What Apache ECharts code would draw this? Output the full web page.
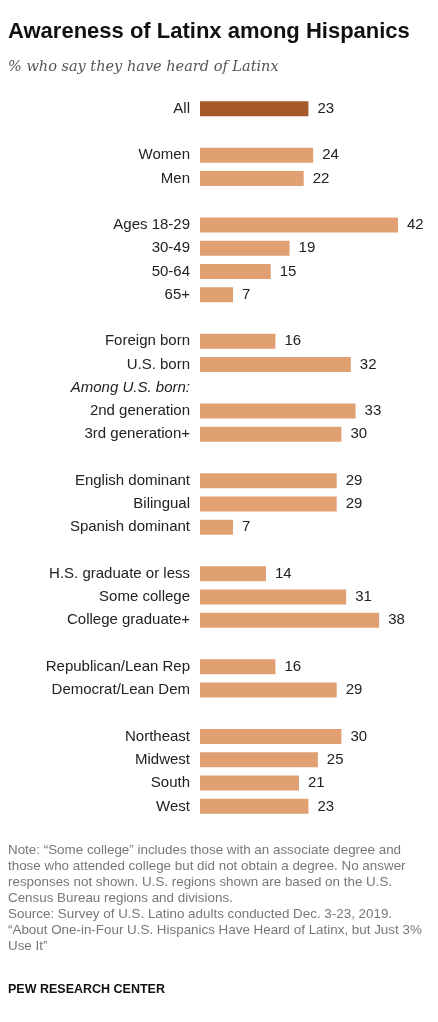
<!DOCTYPE html>
<html><head><meta charset="utf-8">
<script src="https://cdn.jsdelivr.net/npm/echarts@6/dist/echarts.min.js"></script>
<style>html,body{margin:0;padding:0;background:#fff}#c{width:438px;height:1022px}</style>
</head><body><div id="c"></div>
<script>
const categories = ["All","","Women","Men","","Ages 18-29","30-49","50-64","65+","","Foreign born","U.S. born","Among U.S. born:","2nd generation","3rd generation+","","English dominant","Bilingual","Spanish dominant","","H.S. graduate or less","Some college","College graduate+","","Republican/Lean Rep","Democrat/Lean Dem","","Northeast","Midwest","South","West"];
const values = [23,null,24,22,null,42,19,15,7,null,16,32,null,33,30,null,29,29,7,null,14,31,38,null,16,29,null,30,25,21,23];
const chart = echarts.init(document.getElementById('c'));
const F = "'Liberation Sans', Arial, sans-serif";
chart.setOption({
  animation:false,
  grid:{left:200,right:40,top:97,height:721},
  xAxis:{type:'value',min:0,max:42,show:false},
  yAxis:{type:'category',data:categories,inverse:true,axisLine:{show:false},axisTick:{show:false},
    axisLabel:{margin:10,fontFamily:F,fontSize:15,color:'#222',
      formatter:v=>v==="Among U.S. born:"?'{i|'+v+'}':v,
      rich:{i:{fontStyle:'italic',fontFamily:F,fontSize:15,color:'#222'}}}},
  series:[{type:'bar',barWidth:15,
    data:values.map((v,i)=>({value:v,itemStyle:{color:i===0?'#A65A28':'#E1A072'}})),
    label:{show:true,position:'right',distance:9,fontFamily:F,fontSize:15,color:'#222'}}],
  graphic:[
    {type:'text',left:8,top:21,style:{text:'Awareness of Latinx among Hispanics',font:'bold 22px '+F,fill:'#111'}},
    {type:'text',left:8,top:60,style:{text:'% who say they have heard of Latinx',font:'italic 14.5px "DejaVu Serif", serif',fill:'#555'}},
    {type:'text',left:8,top:842,style:{text:'Note: “Some college” includes those with an associate degree and\nthose who attended college but did not obtain a degree. No answer\nresponses not shown. U.S. regions shown are based on the U.S.\nCensus Bureau regions and divisions.\nSource: Survey of U.S. Latino adults conducted Dec. 3-23, 2019.\n“About One-in-Four U.S. Hispanics Have Heard of Latinx, but Just 3%\nUse It”',font:'13.4px '+F,fill:'#777',lineHeight:16}},
    {type:'text',left:8,top:983,style:{text:'PEW RESEARCH CENTER',font:'bold 12.5px '+F,fill:'#111'}}
  ]
});
</script></body></html>
